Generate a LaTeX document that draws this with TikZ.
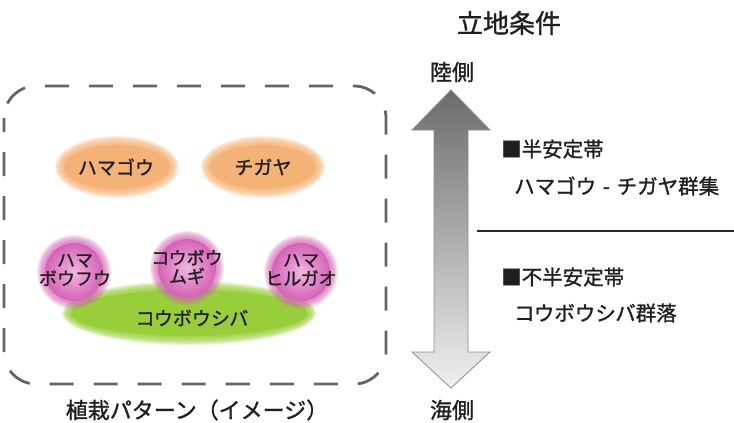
\documentclass[tikz,border=0pt]{standalone}
\usepackage{fontspec}
\setmainfont{Noto Sans CJK JP}[FakeBold=1.2]
\definecolor{orng}{RGB}{245,178,118}
\definecolor{pinkin}{RGB}{242,182,224}
\definecolor{pinkout}{RGB}{212,98,182}
\definecolor{grn}{RGB}{152,206,58}
\definecolor{frame}{RGB}{100,100,100}
\definecolor{txt}{RGB}{35,30,30}
\tikzset{
  lbl/.style={font=\fontsize{19}{21}\selectfont, text=txt, align=center, inner sep=0pt},
  small/.style={font=\fontsize{18}{18.5}\selectfont, text=txt, align=center, inner sep=0pt},
  side/.style={font=\fontsize{20.5}{23}\selectfont, text=txt, anchor=west, inner sep=0pt},
  big/.style={font=\fontsize{22}{24}\selectfont, text=txt, inner sep=0pt},
  huge/.style={font=\fontsize{26}{28}\selectfont, text=txt, inner sep=0pt},
}
\begin{document}
\begin{tikzpicture}[x=1pt,y=-1pt]
\useasboundingbox (0,0) rectangle (734,423);
% dashed frame
\draw[frame, line width=2.8pt, dash pattern=on 24pt off 20pt, dash phase=10pt, rounded corners=32pt]
  (4,86) rectangle (386,384);
% orange ellipses (soft edges)
\foreach \cx in {117,263}{
  \foreach \k in {0,...,7}{
    \fill[orng, opacity=0.22] (\cx,167) ellipse [x radius={62-\k*1.2}, y radius={31-\k*1.2}];
  }
  \fill[orng] (\cx,167) ellipse [x radius=53, y radius=22];
}
% green ellipse
\foreach \k in {0,...,7}{
  \fill[grn, opacity=0.22] (189,313) ellipse [x radius={127-\k*1.2}, y radius={32-\k*1.2}];
}
\fill[grn] (189,313) ellipse [x radius=118, y radius=23];
% pink circles
\foreach \cx/\cy in {74/272, 187/268, 301/272}{
  \foreach \k in {0,...,7}{
    \fill[pinkout, opacity=0.16] (\cx,\cy) circle [radius={37-\k*1.1}];
  }
  \shade[inner color=pinkin, outer color=pinkout] (\cx,\cy) circle [radius=29];
}
% labels
\node[lbl] (hamagou) at (116,167) {ハマゴウ};
\node[lbl] (chigaya) at (263,167) {チガヤ};
\node[lbl] (shiba) at (192,318) {コウボウシバ};
\node[small] (boufuu) at (75,270) {ハマ\\ボウフウ};
\node[small] (mugi) at (187,267) {コウボウ\\ムギ};
\node[small] (hirugao) at (301,270) {ハマ\\ヒルガオ};
\node[big] (caption) at (197,410) {植栽パターン（イメージ）};
% right side
\node[huge] (title) at (509,23) {立地条件};
\node[big] (riku) at (452,72) {陸側};
\node[big] (umi) at (452,410) {海側};
\shade[top color=black!58, bottom color=black!6, draw=black!45, line width=0.8pt]
  (451,90) -- (490,130) -- (468,130) -- (468,352) -- (490,352) -- (451,388)
  -- (412,352) -- (434,352) -- (434,130) -- (412,130) -- cycle;
\coordinate (ls) at (477,231);
\coordinate (le) at (734,231);
\draw[black!85, line width=1.2pt] (ls) -- (le);
\node[side] (semi) at (501,149) {■半安定帯};
\node[side] (semic) at (514,186) {ハマゴウ\makebox[1em]{-}チガヤ群集};
\node[side] (nonsemi) at (501,277) {■不半安定帯};
\node[side] (nonsemic) at (514,313) {コウボウシバ群落};
\end{tikzpicture}
\end{document}
